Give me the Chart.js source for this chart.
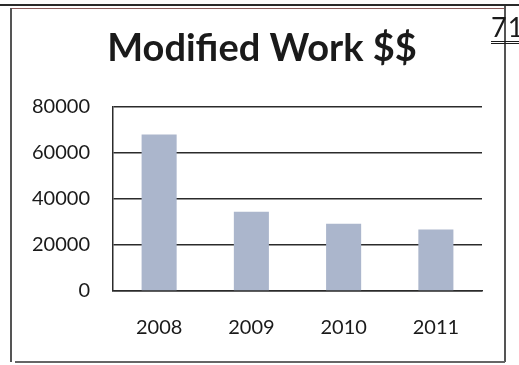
<!DOCTYPE html>
<html>
<head>
<meta charset="utf-8">
<script src="https://cdn.jsdelivr.net/npm/chart.js@4"></script>
<style>
  html, body { margin: 0; padding: 0; background: #fff; }
  #page { position: relative; width: 519px; height: 365px; overflow: hidden; }
  #chart { position: absolute; left: 0; top: 0; }
  .rule { position: absolute; background: #2a2a2a; }
  #pageNo {
    position: absolute; left: 491px; top: 13px;
    font: 27px Lato, sans-serif; color: #1a1a1a; letter-spacing: 1px;
    border-bottom: 3px double #1a1a1a; line-height: 28px;
  }
</style>
</head>
<body>
<div id="page">
  <canvas id="chart" width="519" height="365"></canvas>
  <div class="rule" style="left:0; top:4px; width:519px; height:2px;"></div>
  <div class="rule" style="left:12px; top:8px; width:493px; height:1px; background:#8a5a5a;"></div>
  <div class="rule" style="left:10px; top:8px; width:1.5px; height:354px; background:#555;"></div>
  <div class="rule" style="left:504px; top:6px; width:1.5px; height:356px; background:#555;"></div>
  <div class="rule" style="left:15px; top:361px; width:490px; height:1.5px; background:#666;"></div>
  <div id="pageNo">71</div>
</div>
<script>
const years = ["2008", "2009", "2010", "2011"];
const modifiedWork = [68000, 34500, 29200, 26700];
const yTicks = [0, 20000, 40000, 60000, 80000];

const ink = "#1a1a1a";
const gridInk = "#2b2b2b";

new Chart(document.getElementById("chart"), {
  type: "bar",
  data: {
    labels: years,
    datasets: [
      {
        label: "Modified Work $$",
        data: modifiedWork,
        backgroundColor: "#abb6cc",
        categoryPercentage: 1,
        barPercentage: 0.38,
      },
    ],
  },
  options: {
    responsive: false,
    animation: false,
    layout: { padding: { top: 26, left: 5, right: 0, bottom: 0 } },
    plugins: {
      legend: { display: false },
      tooltip: { enabled: false },
      title: {
        display: true,
        text: "Modified Work $$",
        color: ink,
        font: { family: "Lato", size: 38, weight: "bold", lineHeight: 1.2 },
        padding: { top: 0, bottom: 35.4 },
      },
    },
    scales: {
      x: {
        grid: { display: false },
        border: { display: true, color: gridInk, width: 1.5 },
        ticks: { color: ink, padding: 17, font: { family: "Lato", size: 20 } },
        afterFit: (scale) => { scale.height = 74; },
      },
      y: {
        min: yTicks[0],
        max: yTicks[yTicks.length - 1],
        afterBuildTicks: (scale) => {
          scale.ticks = yTicks.map((v) => ({ value: v }));
        },
        grid: { color: gridInk, lineWidth: 1.5, drawTicks: false },
        border: { display: true, color: gridInk, width: 1.5 },
        ticks: {
          color: ink,
          padding: 23,
          font: { family: "Lato", size: 20 },
          callback: (v) => String(v),
        },
        afterFit: (scale) => { scale.width = 108; },
      },
      // empty margin on the right of the plot
      yRight: {
        position: "right",
        grid: { display: false },
        border: { display: false },
        ticks: { display: false },
        afterFit: (scale) => { scale.width = 37; },
      },
    },
  },
});
</script>
</body>
</html>
